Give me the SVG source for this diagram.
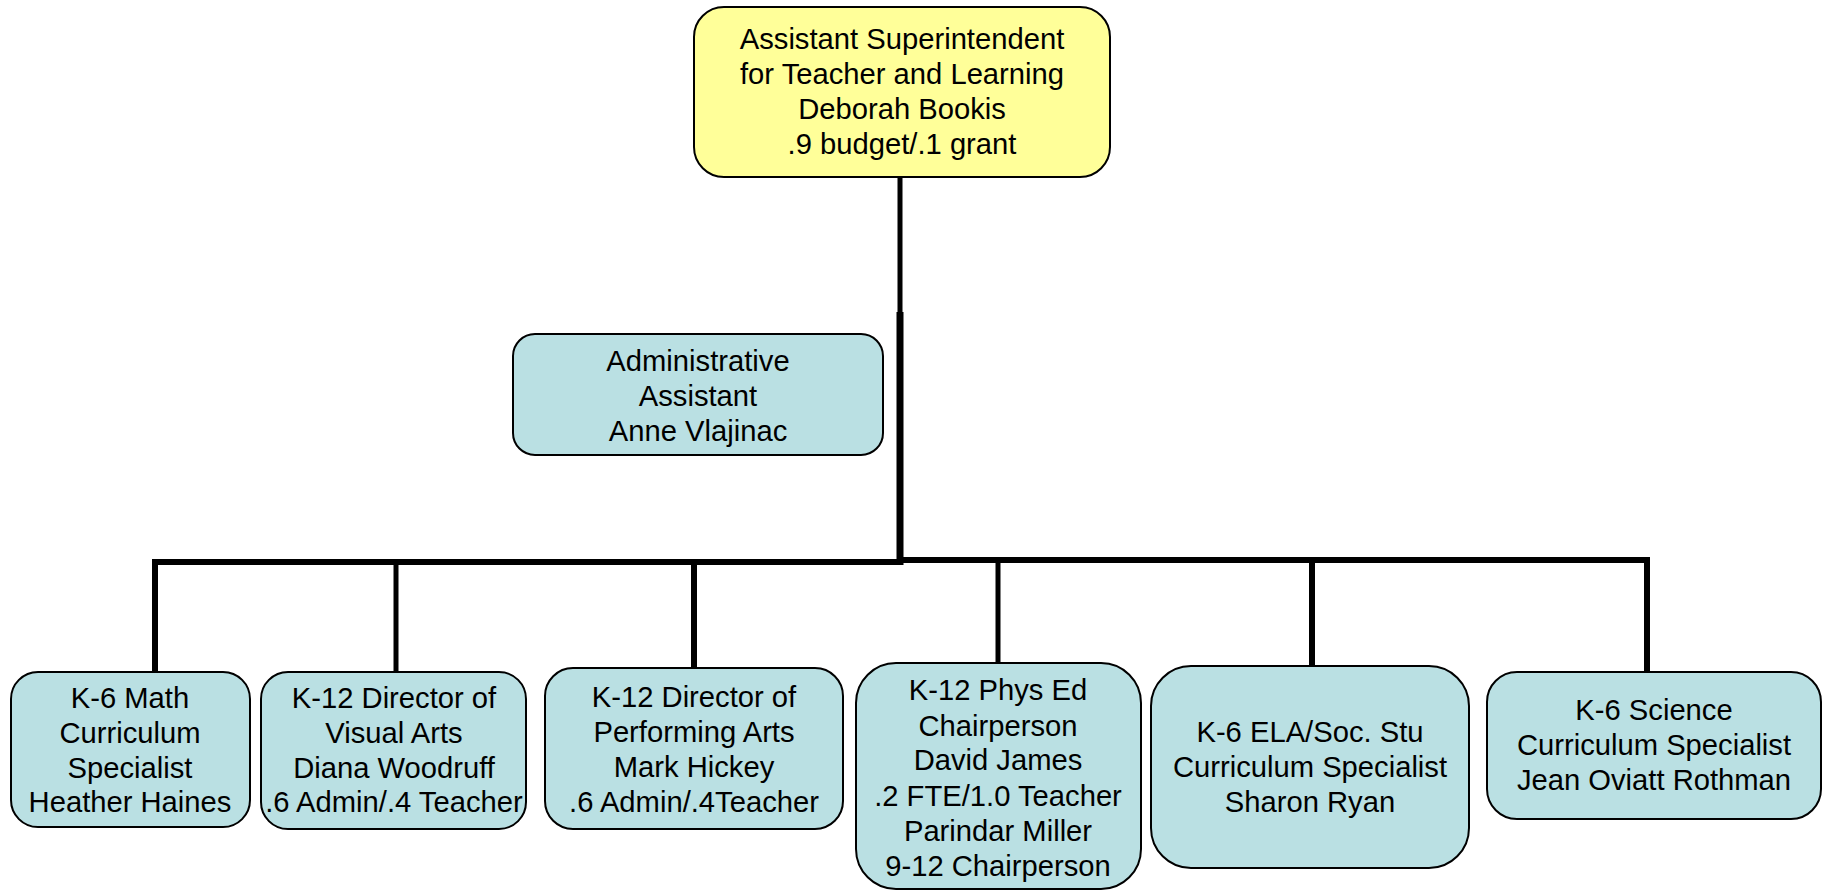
<svg xmlns="http://www.w3.org/2000/svg" width="1826" height="891" viewBox="0 0 1826 891">
<style>
.box{fill:#BAE0E3;stroke:#000;stroke-width:2}
.top{fill:#FFFF99;stroke:#000;stroke-width:2}
text{font-family:"Liberation Sans",Arial,sans-serif;font-size:29.2px;fill:#000;text-anchor:middle}
.ln{stroke:#000;fill:none;stroke-linecap:butt}
</style>
<rect width="1826" height="891" fill="#fff"/>
<g id="connectors">
<line class="ln" x1="900" y1="177" x2="900" y2="313" stroke-width="5"/>
<line class="ln" x1="900" y1="312" x2="900" y2="565" stroke-width="7"/>
<line class="ln" x1="152" y1="562" x2="903" y2="562" stroke-width="6"/>
<line class="ln" x1="900" y1="560" x2="1650" y2="560" stroke-width="6"/>
<line class="ln" x1="155" y1="559" x2="155" y2="672" stroke-width="6"/>
<line class="ln" x1="396" y1="562" x2="396" y2="672" stroke-width="5"/>
<line class="ln" x1="694" y1="559" x2="694" y2="668" stroke-width="6"/>
<line class="ln" x1="998" y1="560" x2="998" y2="663" stroke-width="5"/>
<line class="ln" x1="1312" y1="560" x2="1312" y2="666" stroke-width="6"/>
<line class="ln" x1="1647" y1="557" x2="1647" y2="672" stroke-width="6"/>
</g>
<g id="n-asst-super">
<rect class="top" x="694" y="7" width="416" height="170" rx="30"/>
<text x="902" y="49">Assistant Superintendent</text>
<text x="902" y="84">for Teacher and Learning</text>
<text x="902" y="119">Deborah Bookis</text>
<text x="902" y="154">.9 budget/.1 grant</text>
</g>
<g id="n-admin-asst">
<rect class="box" x="513" y="334" width="370" height="121" rx="22"/>
<text x="698" y="371">Administrative</text>
<text x="698" y="406">Assistant</text>
<text x="698" y="441">Anne Vlajinac</text>
</g>
<g id="n-math">
<rect class="box" x="11" y="672" width="239" height="155" rx="27"/>
<text x="130" y="708">K-6 Math</text>
<text x="130" y="743">Curriculum</text>
<text x="130" y="778">Specialist</text>
<text x="130" y="812">Heather Haines</text>
</g>
<g id="n-visual-arts">
<rect class="box" x="261" y="672" width="265" height="157" rx="27"/>
<text x="394" y="708">K-12 Director of</text>
<text x="394" y="743">Visual Arts</text>
<text x="394" y="778">Diana Woodruff</text>
<text x="394" y="812">.6 Admin/.4 Teacher</text>
</g>
<g id="n-performing-arts">
<rect class="box" x="545" y="668" width="298" height="161" rx="28"/>
<text x="694" y="707">K-12 Director of</text>
<text x="694" y="742">Performing Arts</text>
<text x="694" y="777">Mark Hickey</text>
<text x="694" y="812">.6 Admin/.4Teacher</text>
</g>
<g id="n-phys-ed">
<rect class="box" x="856" y="663" width="285" height="226" rx="40"/>
<text x="998" y="700">K-12 Phys Ed</text>
<text x="998" y="736">Chairperson</text>
<text x="998" y="770">David James</text>
<text x="998" y="806">.2 FTE/1.0 Teacher</text>
<text x="998" y="841">Parindar Miller</text>
<text x="998" y="876">9-12 Chairperson</text>
</g>
<g id="n-ela">
<rect class="box" x="1151" y="666" width="318" height="202" rx="40"/>
<text x="1310" y="742">K-6 ELA/Soc. Stu</text>
<text x="1310" y="777">Curriculum Specialist</text>
<text x="1310" y="812">Sharon Ryan</text>
</g>
<g id="n-science">
<rect class="box" x="1487" y="672" width="334" height="147" rx="30"/>
<text x="1654" y="720">K-6 Science</text>
<text x="1654" y="755">Curriculum Specialist</text>
<text x="1654" y="790">Jean Oviatt Rothman</text>
</g>
</svg>
